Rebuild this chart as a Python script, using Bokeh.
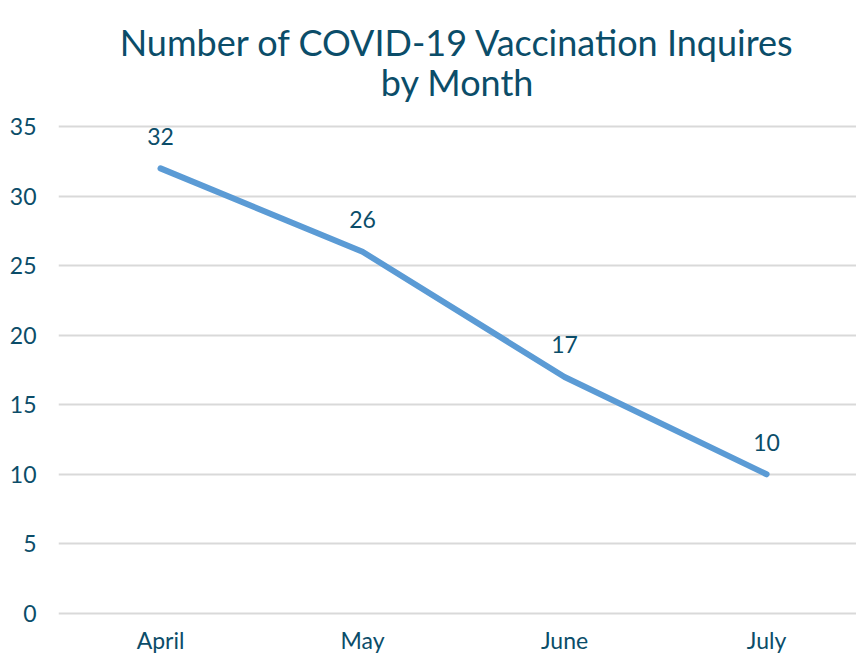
from bokeh.plotting import figure
from bokeh.models import ColumnDataSource, FixedTicker, Range1d
from bokeh.core.properties import value
from bokeh.embed import file_html
from bokeh.resources import INLINE

months = ["April", "May", "June", "July"]
inquiries = [32, 26, 17, 10]
y_ticks = [0, 5, 10, 15, 20, 25, 30, 35]
title_text = "Number of COVID-19 Vaccination Inquires\nby Month"

TEAL = "#0b4d69"
FONT = "Lato"

xs = list(range(len(months)))
src = ColumnDataSource(dict(x=xs, y=inquiries, label=[str(v) for v in inquiries]))

p = figure(width=856, height=656, output_backend="svg", toolbar_location=None,
           x_range=Range1d(-0.505, 3.445), y_range=Range1d(-0.3, 35.3),
           min_border_left=58, min_border_right=0, min_border_top=122, min_border_bottom=36,
           title=title_text)
p.outline_line_color = None

p.title.align = "center"
p.title.text_align = "center"
p.title.text_font = FONT
p.title.text_font_size = "36px"
p.title.text_font_style = "normal"
p.title.text_color = TEAL
p.title.text_line_height = 0.92
p.title.standoff = 36

p.line("x", "y", source=src, line_width=6, line_color="#5b9bd5",
       line_cap="round", line_join="round")
p.text("x", "y", text="label", source=src, text_align="center", text_baseline="middle",
       y_offset=-32, text_font=value(FONT), text_font_size="23px", text_color=TEAL)

p.xgrid.grid_line_color = None
p.ygrid.grid_line_color = "#d9d9d9"
p.ygrid.grid_line_width = 2
p.yaxis.ticker = FixedTicker(ticks=y_ticks)
p.xaxis.ticker = FixedTicker(ticks=xs)
p.xaxis.major_label_overrides = {i: m for i, m in enumerate(months)}

for ax in (p.xaxis[0], p.yaxis[0]):
    ax.axis_line_color = None
    ax.major_tick_line_color = None
    ax.minor_tick_line_color = None
    ax.major_tick_out = 0
    ax.major_tick_in = 0
    ax.minor_tick_out = 0
    ax.minor_tick_in = 0
    ax.major_label_text_font = FONT
    ax.major_label_text_font_size = "23px"
    ax.major_label_text_color = TEAL
p.yaxis.major_label_standoff = 22
p.xaxis.major_label_standoff = 8

open("out.html", "w").write(file_html(p, INLINE))
